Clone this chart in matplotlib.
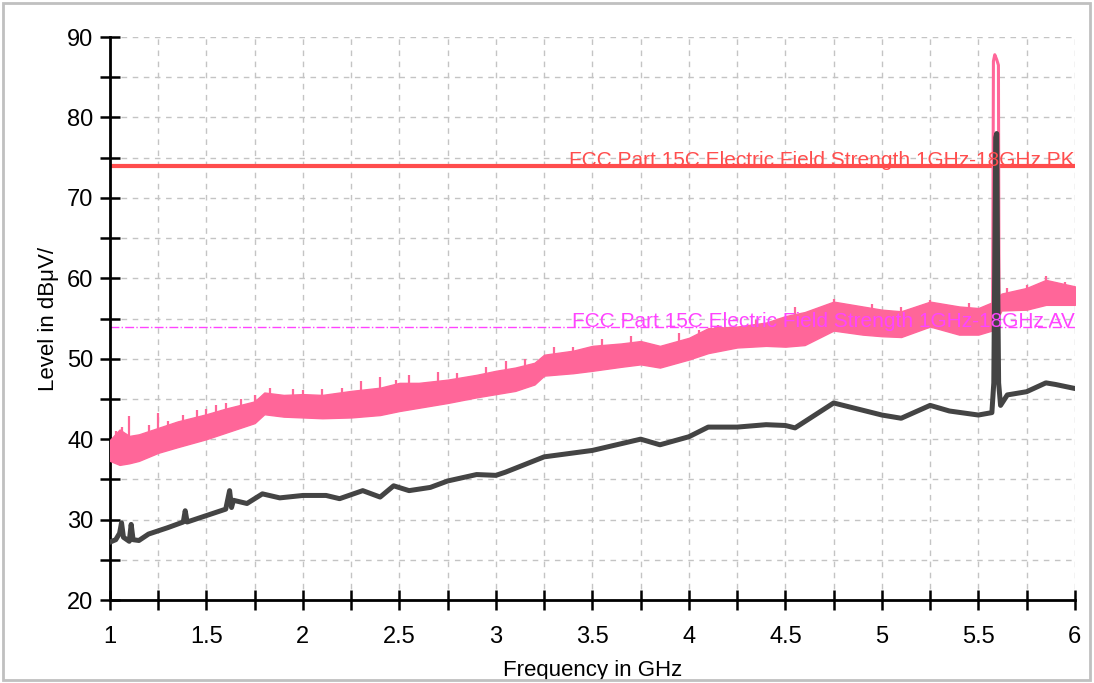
"""Radiated emission scan 1-6 GHz: peak / average traces against FCC Part 15C limits."""

import matplotlib

matplotlib.use("Agg")
import matplotlib.pyplot as plt
from matplotlib.patches import Rectangle
from matplotlib.ticker import MultipleLocator

plt.rcParams["font.family"] = ["Liberation Sans", "DejaVu Sans"]

# limit lines (dBuV/m)
limit_pk = 74.0
limit_av = 54.0
label_pk = "FCC Part 15C Electric Field Strength 1GHz-18GHz PK"
label_av = "FCC Part 15C Electric Field Strength 1GHz-18GHz AV"

# peak trace, read as a band (lower / upper envelope)
pk_freq = [1.0, 1.05, 1.1, 1.15, 1.25, 1.35, 1.5, 1.6, 1.75, 1.8, 1.9, 2.0,
           2.1, 2.25, 2.4, 2.5, 2.6, 2.75, 2.9, 3.0, 3.1, 3.2, 3.25, 3.4,
           3.5, 3.65, 3.75, 3.85, 4.0, 4.1, 4.25, 4.4, 4.5, 4.6, 4.75, 4.9,
           5.0, 5.1, 5.25, 5.4, 5.5, 5.57, 5.62, 5.75, 5.85, 6.0]
pk_upper = [39.9, 41.2, 40.4, 40.6, 41.4, 42.2, 43.1, 43.8, 44.7, 45.8, 45.5, 45.6,
            45.5, 46.0, 46.4, 47.0, 47.0, 47.4, 48.0, 48.5, 48.9, 49.5, 50.5, 51.0,
            51.6, 51.9, 52.2, 51.6, 52.6, 53.8, 54.0, 54.5, 55.3, 55.8, 57.1, 56.5,
            56.1, 55.9, 57.1, 56.5, 56.3, 57.0, 58.1, 58.8, 59.8, 59.0]
pk_lower = [37.3, 36.8, 37.0, 37.3, 38.3, 39.0, 40.0, 40.8, 42.0, 43.1, 42.8, 42.7,
            42.6, 42.7, 43.0, 43.5, 43.9, 44.5, 45.2, 45.6, 46.0, 46.8, 47.9, 48.2,
            48.5, 49.0, 49.3, 48.9, 49.9, 50.7, 51.4, 51.6, 51.5, 51.7, 53.5, 53.0,
            52.8, 52.7, 54.0, 53.0, 53.0, 53.5, 56.0, 56.1, 56.7, 56.7]

# isolated peaks sticking out of the peak band
pk_spike_freq = [1.03, 1.06, 1.08, 1.1, 1.2, 1.25, 1.3, 1.38, 1.45, 1.5, 1.55,
                 1.6, 1.68, 1.75, 1.83, 1.95, 2.0, 2.1, 2.2, 2.3, 2.4, 2.48,
                 2.55, 2.7, 2.8, 2.95, 3.05, 3.15, 3.3, 3.4, 3.55, 3.7, 3.95,
                 4.05, 4.15, 4.35, 4.55, 4.75, 4.95, 5.1, 5.25, 5.45, 5.65,
                 5.75, 5.85, 5.95]
pk_spike_level = [41.0, 41.5, 40.8, 42.9, 41.8, 43.3, 42.3, 43.0, 43.6, 43.8, 44.2,
                  44.5, 45.0, 45.5, 46.3, 46.2, 46.1, 46.2, 46.4, 47.2, 47.7, 47.4,
                  48.0, 48.4, 48.2, 49.0, 49.7, 50.0, 51.4, 51.5, 52.5, 52.8, 53.2,
                  53.6, 54.2, 54.8, 56.4, 57.4, 56.8, 56.4, 57.3, 56.9, 58.8,
                  59.2, 60.3, 59.6]

# carrier at 5.6 GHz in the peak trace
carrier_pk_freq = [5.574, 5.578, 5.585, 5.595, 5.604, 5.607]
carrier_pk_level = [56.0, 87.0, 87.8, 87.2, 86.5, 58.0]

# average trace
av_freq = [1.0, 1.03, 1.05, 1.06, 1.07, 1.1, 1.11, 1.12, 1.15, 1.2, 1.25, 1.3,
           1.38, 1.39, 1.4, 1.5, 1.6, 1.62, 1.63, 1.64, 1.71, 1.79, 1.88, 2.0,
           2.12, 2.19, 2.31, 2.4, 2.47, 2.55, 2.66, 2.75, 2.9, 3.0, 3.05, 3.25,
           3.5, 3.75, 3.85, 4.0, 4.1, 4.25, 4.4, 4.5, 4.55, 4.75, 4.85, 5.0,
           5.1, 5.25, 5.35, 5.5, 5.57, 5.58, 5.59, 5.595, 5.6, 5.605, 5.615, 5.65,
           5.75, 5.85, 5.9, 6.0]
av_level = [27.2, 27.5, 28.3, 29.6, 27.8, 27.3, 29.4, 27.5, 27.4, 28.2, 28.6, 29.0,
            29.7, 31.1, 29.7, 30.5, 31.3, 33.6, 31.5, 32.4, 32.0, 33.2, 32.7, 33.0,
            33.0, 32.6, 33.6, 32.8, 34.2, 33.6, 34.0, 34.8, 35.6, 35.5, 35.9, 37.8,
            38.6, 40.0, 39.3, 40.3, 41.5, 41.5, 41.8, 41.7, 41.4, 44.5, 43.9, 43.0,
            42.6, 44.2, 43.5, 43.0, 43.3, 47.0, 77.5, 78.0, 60.0, 47.0, 44.2, 45.5,
            45.9, 47.0, 46.8, 46.3]

PINK = "#ff6699"
DARK = "#444444"

fig = plt.figure(figsize=(10.94, 6.83), dpi=100)
ax = fig.add_axes([0.1005, 0.1215, 0.882, 0.8243])

ax.fill_between(pk_freq, pk_lower, pk_upper, color=PINK, lw=1.0, zorder=3)
ax.vlines(pk_spike_freq, [l - 2.5 for l in pk_spike_level], pk_spike_level,
          color=PINK, lw=1.6, zorder=3)
ax.plot(carrier_pk_freq, carrier_pk_level, color=PINK, lw=2.2, zorder=3)

ax.plot(av_freq, av_level, color=DARK, lw=3.6, zorder=4)

ax.axhline(limit_pk, color="#ff4d4d", lw=3, zorder=2)
ax.axhline(limit_av, color="#ff44ff", lw=1, ls="-.", zorder=2)
ax.text(6.0, limit_pk, label_pk, color="#ff4d4d", fontsize=15,
        ha="right", va="baseline", zorder=5)
ax.text(6.0, limit_av, label_av, color="#ff44ff", fontsize=15,
        ha="right", va="baseline", zorder=5)

ax.set_xlim(1, 6)
ax.set_ylim(20, 90)
ax.xaxis.set_major_locator(MultipleLocator(0.5))
ax.xaxis.set_minor_locator(MultipleLocator(0.25))
ax.yaxis.set_major_locator(MultipleLocator(10))
ax.yaxis.set_minor_locator(MultipleLocator(5))
ax.set_xticklabels([f"{v:g}" for v in ax.get_xticks()])

ax.grid(which="both", color="#c4c4c4", ls=(0, (4, 4)), lw=1)
for side in ("top", "right"):
    ax.spines[side].set_visible(False)
for side in ("left", "bottom"):
    ax.spines[side].set_linewidth(2)
ax.tick_params(which="both", direction="inout", length=14, width=1.8,
               labelsize=17)
ax.tick_params(axis="x", pad=12)
ax.tick_params(axis="y", pad=5)

ax.set_xlabel("Frequency in GHz", fontsize=16, labelpad=8)
ax.set_ylabel("Level in dBμV/", fontsize=16, labelpad=6)

fig.patches.append(Rectangle((0.003, 0.004), 0.993, 0.992, transform=fig.transFigure,
                             fill=False, ec="#c0c0c0", lw=2))

fig.savefig("out.png", dpi=100)
